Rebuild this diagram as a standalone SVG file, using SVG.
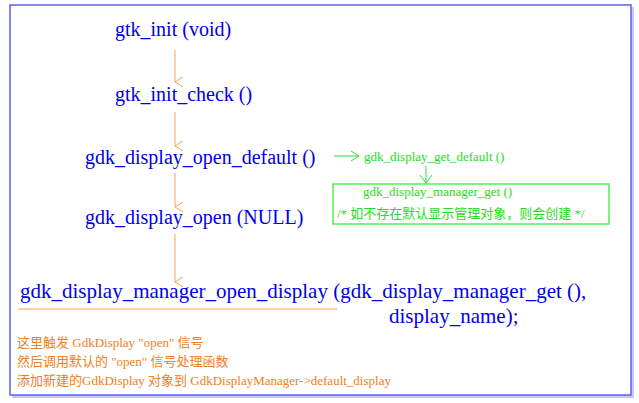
<svg xmlns="http://www.w3.org/2000/svg" width="639" height="403" viewBox="0 0 639 403">
<defs>
<marker id="ao" markerWidth="12" markerHeight="10" refX="6" refY="9" orient="auto-start-reverse" markerUnits="userSpaceOnUse"><path d="M1,1 L6,9 L11,1" fill="none" stroke="#f8a050" stroke-width="1"/></marker>
<marker id="ag" markerWidth="12" markerHeight="12" refX="10" refY="6" orient="auto" markerUnits="userSpaceOnUse"><path d="M2,1 L10,6 L2,11" fill="none" stroke="#33dd33" stroke-width="1"/></marker>
<marker id="ag2" markerWidth="14" markerHeight="10" refX="7" refY="9" orient="0" markerUnits="userSpaceOnUse"><path d="M1,1 L7,9 L13,1" fill="none" stroke="#33dd33" stroke-width="1"/></marker>
</defs>
<style>
.b{font-family:"Liberation Serif",serif;fill:#0000ee;font-size:20px}
.g{font-family:"Liberation Serif","Noto Sans CJK SC",serif;fill:#22dd22;font-size:13px}
.o{font-family:"Liberation Serif","Noto Sans CJK SC",serif;fill:#f08020;font-size:13px}
.ol{stroke:#f8a050;stroke-width:1;fill:none}
.gl{stroke:#33dd33;stroke-width:1;fill:none}
</style>
<rect width="639" height="403" fill="#fff"/>
<rect x="12" y="7" width="622" height="391" fill="#c8c8f0"/>
<rect x="10" y="5" width="621" height="390" fill="#fff" stroke="#6060ee" stroke-width="1.5"/>
<g id="connectors">
<line class="ol" x1="175" y1="50" x2="175" y2="82" marker-end="url(#ao)"/>
<line class="ol" x1="175" y1="112" x2="175" y2="146" marker-end="url(#ao)"/>
<line class="ol" x1="175" y1="173" x2="175" y2="207" marker-end="url(#ao)"/>
<line class="ol" x1="175" y1="234" x2="175" y2="282" marker-end="url(#ao)"/>
<line class="ol" x1="18" y1="309" x2="337" y2="309"/>
<line class="gl" x1="334" y1="156" x2="359" y2="156" marker-end="url(#ag)"/>
<line class="gl" x1="426" y1="166" x2="426" y2="183" marker-end="url(#ag2)"/>
</g>
<g id="n1"><text class="b" x="115" y="36">gtk_init (void)</text></g>
<g id="n2"><text class="b" x="115" y="101">gtk_init_check ()</text></g>
<g id="n3"><text class="b" x="85" y="164">gdk_display_open_default ()</text></g>
<g id="n4"><text class="b" x="85" y="224">gdk_display_open (NULL)</text></g>
<g id="n5"><text class="b" x="20" y="298" style="font-size:21px">gdk_display_manager_open_display (gdk_display_manager_get (),</text>
<text class="b" x="389" y="323" style="font-size:21px">display_name);</text></g>
<g id="n6"><text class="g" x="364" y="161">gdk_display_get_default ()</text></g>
<g id="n7"><rect x="333" y="184" width="276" height="40" fill="none" stroke="#55ee55" stroke-width="1.5"/>
<text class="g" x="363" y="196">gdk_display_manager_get ()</text>
<text class="g" x="337" y="218">/* 如不存在默认显示管理对象，则会创建 */</text></g>
<g id="n8">
<text class="o" x="17" y="347">这里触发 GdkDisplay  "open" 信号</text>
<text class="o" x="17" y="366">然后调用默认的 "open" 信号处理函数</text>
<text class="o" x="17" y="385">添加新建的GdkDisplay 对象到 GdkDisplayManager-&gt;default_display</text>
</g>
</svg>
